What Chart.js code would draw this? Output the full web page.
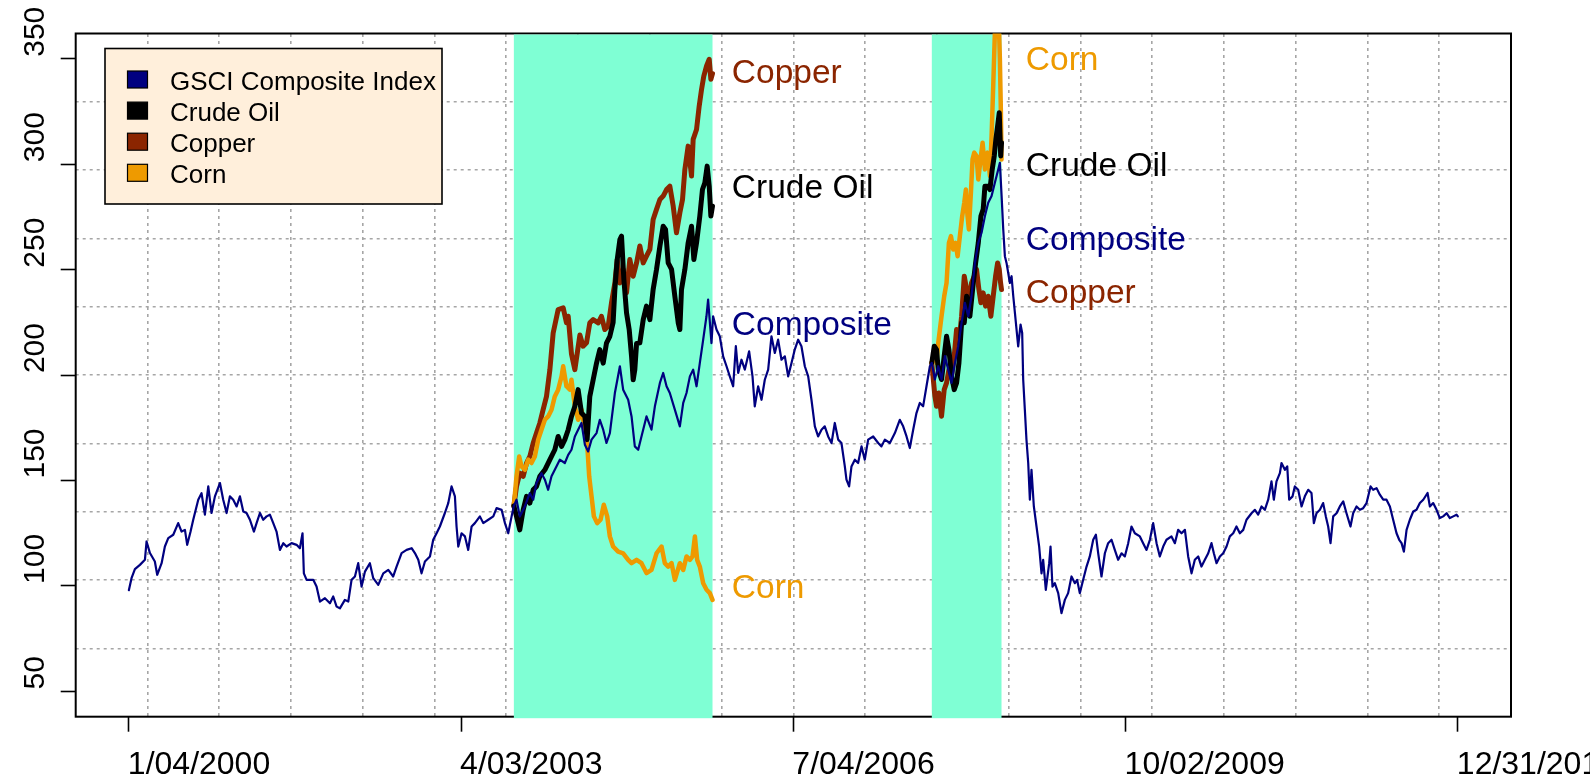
<!DOCTYPE html>
<html><head><meta charset="utf-8">
<script src="https://cdn.jsdelivr.net/npm/chart.js@4.4.1/dist/chart.umd.min.js"></script>
<style>html,body{margin:0;padding:0;background:#fff;overflow:hidden}</style>
</head><body>
<canvas id="c" width="1590" height="779"></canvas>
<script>
// ---------------- DATA ----------------
const xTickLabels = ['1/04/2000','4/03/2003','7/04/2006','10/02/2009','12/31/2012'];
const xTickYears = [2000.011, 2003.2575, 2006.504, 2009.7505, 2012.997];
const yTickValues = [50,100,150,200,250,300,350];
const yLimits = [50, 350];
const shadeRegions = [[2003.773, 2005.714], [2007.857, 2008.538]];
const legendLabels = ['GSCI Composite Index','Crude Oil','Copper','Corn'];

const composite = [
[2000.011,98.0],[2000.037,103.7],[2000.070,108.0],[2000.119,110.0],[2000.168,112.4],[2000.184,121.1],[2000.217,115.6],[2000.265,111.6],[2000.288,105.3],[2000.331,110.8],[2000.363,118.7],[2000.396,122.7],[2000.445,124.3],[2000.493,129.8],[2000.526,125.8],[2000.559,126.6],[2000.581,119.5],[2000.614,125.8],[2000.640,131.4],[2000.689,140.9],[2000.721,144.0],[2000.754,133.8],[2000.787,147.2],[2000.819,134.6],[2000.852,142.5],[2000.901,148.8],[2000.933,140.9],[2000.966,134.6],[2000.998,142.5],[2001.031,140.9],[2001.064,137.7],[2001.096,142.5],[2001.129,135.3],[2001.161,134.6],[2001.194,131.4],[2001.233,125.8],[2001.259,129.8],[2001.292,134.6],[2001.324,131.4],[2001.357,133.0],[2001.389,133.8],[2001.422,129.8],[2001.454,125.8],[2001.487,117.1],[2001.520,120.3],[2001.552,118.7],[2001.601,120.3],[2001.650,119.5],[2001.682,117.9],[2001.708,125.0],[2001.721,106.0],[2001.748,102.9],[2001.813,102.9],[2001.845,99.7],[2001.878,92.6],[2001.927,94.2],[2001.976,91.8],[2002.008,95.0],[2002.041,90.2],[2002.073,89.4],[2002.122,93.4],[2002.155,92.6],[2002.187,102.9],[2002.220,104.5],[2002.252,110.8],[2002.285,99.7],[2002.318,106.8],[2002.366,110.8],[2002.399,103.7],[2002.448,100.5],[2002.497,106.0],[2002.546,107.6],[2002.594,104.5],[2002.627,109.2],[2002.676,115.6],[2002.725,117.1],[2002.774,117.9],[2002.806,115.6],[2002.839,112.4],[2002.871,106.0],[2002.904,111.6],[2002.953,114.0],[2002.985,121.9],[2003.018,125.0],[2003.050,128.2],[2003.099,134.6],[2003.132,139.3],[2003.164,147.2],[2003.197,142.5],[2003.213,128.2],[2003.230,118.7],[2003.262,125.0],[2003.295,123.5],[2003.327,117.1],[2003.360,128.2],[2003.392,129.8],[2003.441,133.0],[2003.474,129.8],[2003.523,131.4],[2003.572,133.0],[2003.604,136.9],[2003.653,136.1],[2003.686,129.8],[2003.718,125.0],[2003.751,133.0],
[2003.773,138.0],[2003.799,140.9],[2003.831,133.0],[2003.880,137.7],[2003.929,144.0],[2003.962,140.9],[2003.994,148.8],[2004.043,153.5],[2004.076,150.4],[2004.108,145.6],[2004.141,152.0],[2004.173,155.1],[2004.222,159.9],[2004.271,158.3],[2004.304,162.2],[2004.336,164.6],[2004.369,170.9],[2004.401,174.1],[2004.434,177.3],[2004.467,167.0],[2004.499,163.8],[2004.532,169.4],[2004.581,172.5],[2004.613,178.8],[2004.646,174.1],[2004.678,167.8],[2004.711,172.5],[2004.760,191.5],[2004.809,204.2],[2004.841,193.1],[2004.890,188.3],[2004.923,180.4],[2004.955,166.2],[2004.988,164.6],[2005.020,170.9],[2005.069,180.4],[2005.118,174.1],[2005.151,185.2],[2005.200,196.3],[2005.232,201.0],[2005.265,194.7],[2005.297,191.5],[2005.346,183.6],[2005.395,175.7],[2005.428,186.8],[2005.460,191.5],[2005.493,199.4],[2005.525,202.6],[2005.558,194.7],[2005.590,205.7],[2005.623,216.8],[2005.655,227.9],[2005.671,235.8],[2005.704,215.2],[2005.720,227.9],[2005.753,221.6],[2005.785,218.4],[2005.818,208.9],[2005.851,204.2],[2005.883,199.4],[2005.916,194.7],[2005.942,213.7],[2005.965,201.0],[2005.997,207.3],[2006.030,202.6],[2006.072,211.3],[2006.105,199.4],[2006.127,185.2],[2006.160,194.7],[2006.193,188.3],[2006.225,197.8],[2006.258,202.6],[2006.290,218.4],[2006.323,210.5],[2006.355,216.8],[2006.388,207.3],[2006.421,208.9],[2006.453,199.4],[2006.486,205.7],[2006.518,212.1],[2006.551,216.8],[2006.583,213.7],[2006.616,204.2],[2006.649,199.4],[2006.681,188.3],[2006.714,175.7],[2006.746,170.9],[2006.779,174.1],[2006.811,175.7],[2006.844,170.9],[2006.877,167.8],[2006.909,177.3],[2006.942,169.4],[2006.974,167.8],[2007.007,156.7],[2007.023,150.4],[2007.049,147.2],[2007.072,156.7],[2007.105,159.9],[2007.137,158.3],[2007.170,166.2],[2007.202,159.9],[2007.235,169.4],[2007.284,170.9],[2007.333,167.8],[2007.365,166.2],[2007.398,169.4],[2007.447,167.8],[2007.496,172.5],[2007.544,178.8],[2007.577,175.7],[2007.610,170.9],[2007.642,165.4],[2007.675,174.1],[2007.707,182.0],[2007.740,186.8],[2007.772,185.2],[2007.805,194.7],[2007.838,204.2],
[2007.857,205.8],[2007.887,197.9],[2007.920,204.2],[2007.952,197.9],[2007.985,209.0],[2008.017,202.6],[2008.050,196.3],[2008.083,205.8],[2008.115,213.7],[2008.148,224.8],[2008.180,234.3],[2008.213,227.9],[2008.245,237.4],[2008.278,253.2],[2008.311,262.7],[2008.343,267.5],[2008.376,275.4],[2008.408,281.7],[2008.441,284.9],[2008.473,291.2],[2008.506,297.5],[2008.522,300.7],[2008.539,284.9],[2008.555,269.1],[2008.571,256.4],[2008.587,253.2],[2008.620,243.7],[2008.636,246.9],[2008.653,237.4],[2008.669,229.5],[2008.701,213.6],[2008.724,224.0],[2008.740,220.0],[2008.750,197.8],[2008.766,183.6],[2008.782,169.3],[2008.799,158.3],[2008.815,140.9],[2008.831,155.1],[2008.854,137.7],[2008.880,128.2],[2008.906,118.7],[2008.929,106.0],[2008.945,112.4],[2008.971,98.1],[2009.004,110.8],[2009.017,118.7],[2009.036,99.7],[2009.059,101.3],[2009.092,96.6],[2009.124,87.1],[2009.157,93.4],[2009.189,96.6],[2009.222,104.5],[2009.255,101.3],[2009.277,102.9],[2009.303,96.6],[2009.336,102.9],[2009.369,109.2],[2009.401,114.0],[2009.434,121.9],[2009.460,124.3],[2009.483,115.5],[2009.515,104.5],[2009.548,115.5],[2009.580,120.3],[2009.613,121.9],[2009.645,117.1],[2009.678,112.4],[2009.711,115.5],[2009.743,114.0],[2009.776,120.3],[2009.808,128.2],[2009.841,125.0],[2009.890,123.5],[2009.922,120.3],[2009.955,117.1],[2009.988,121.9],[2010.020,129.8],[2010.053,120.3],[2010.085,114.0],[2010.118,118.7],[2010.150,121.9],[2010.199,123.5],[2010.232,120.3],[2010.264,126.6],[2010.297,125.0],[2010.330,126.6],[2010.362,114.0],[2010.395,106.0],[2010.427,112.4],[2010.460,114.0],[2010.492,109.2],[2010.525,112.4],[2010.558,115.5],[2010.590,120.3],[2010.613,115.5],[2010.639,110.8],[2010.672,114.0],[2010.704,115.5],[2010.737,118.7],[2010.769,123.5],[2010.802,125.0],[2010.834,128.2],
[2010.867,125.0],[2010.900,126.6],[2010.932,131.4],[2010.981,134.5],[2011.014,136.1],[2011.046,133.8],[2011.079,137.7],[2011.111,136.1],[2011.144,140.9],[2011.176,149.6],[2011.199,140.9],[2011.225,149.6],[2011.258,153.5],[2011.274,158.3],[2011.307,155.1],[2011.330,156.7],[2011.349,140.9],[2011.382,142.5],[2011.404,147.2],[2011.437,145.6],[2011.470,137.7],[2011.502,142.5],[2011.535,145.6],[2011.567,144.1],[2011.590,129.8],[2011.616,134.5],[2011.649,136.1],[2011.681,139.3],[2011.707,133.0],[2011.730,128.2],[2011.753,120.3],[2011.779,133.0],[2011.812,134.5],[2011.844,137.7],[2011.877,140.1],[2011.909,134.5],[2011.948,128.2],[2011.974,134.5],[2012.007,137.7],[2012.040,136.1],[2012.072,136.9],[2012.105,139.3],[2012.144,147.2],[2012.170,145.6],[2012.203,146.4],[2012.235,143.3],[2012.268,140.9],[2012.300,140.9],[2012.333,137.7],[2012.365,131.4],[2012.398,125.0],[2012.424,121.9],[2012.447,120.3],[2012.470,116.3],[2012.496,126.6],[2012.528,131.4],[2012.561,135.3],[2012.593,136.1],[2012.626,139.3],[2012.659,140.9],[2012.701,144.1],[2012.724,137.7],[2012.756,139.3],[2012.789,136.1],[2012.821,132.2],[2012.854,133.0],[2012.887,134.5],[2012.919,132.2],[2012.952,133.0],[2012.984,133.8],[2012.997,133.0]
];

const crudeOil1 = [
[2003.773,138.0],[2003.799,133.0],[2003.831,126.6],[2003.864,136.1],[2003.897,142.5],[2003.929,139.3],[2003.962,145.6],[2003.994,147.2],[2004.027,152.0],[2004.076,155.1],[2004.125,159.9],[2004.173,164.6],[2004.206,170.9],[2004.239,166.2],[2004.271,169.4],[2004.304,174.1],[2004.336,180.4],[2004.369,185.2],[2004.401,193.1],[2004.434,182.0],[2004.467,180.4],[2004.489,169.4],[2004.515,189.9],[2004.548,197.8],[2004.581,205.7],[2004.613,212.1],[2004.646,205.7],[2004.678,215.2],[2004.711,218.4],[2004.743,225.0],[2004.760,240.6],[2004.783,254.8],[2004.809,264.3],[2004.825,265.9],[2004.848,245.3],[2004.874,229.5],[2004.900,221.6],[2004.923,208.9],[2004.939,197.8],[2004.955,202.6],[2004.972,215.0],[2005.004,215.3],[2005.037,226.3],[2005.069,232.7],[2005.102,226.3],[2005.134,240.6],[2005.167,250.1],[2005.200,261.2],[2005.232,270.6],[2005.255,269.1],[2005.281,253.2],[2005.314,250.1],[2005.346,237.4],[2005.379,224.8],[2005.395,221.6],[2005.411,240.6],[2005.444,250.1],[2005.476,262.7],[2005.509,270.6],[2005.532,254.8],[2005.558,262.7],[2005.590,275.4],[2005.616,288.0],[2005.639,291.2],[2005.662,299.1],[2005.682,289.6],[2005.698,275.4],[2005.714,280.1]
];
const copper1 = [
[2003.773,138.0],[2003.799,147.2],[2003.831,153.5],[2003.864,152.0],[2003.897,158.3],[2003.929,161.4],[2003.962,167.8],[2003.994,172.5],[2004.027,177.3],[2004.059,183.6],[2004.092,189.9],[2004.125,202.6],[2004.157,220.0],[2004.206,231.1],[2004.255,231.9],[2004.287,224.8],[2004.304,227.9],[2004.336,210.0],[2004.369,202.6],[2004.418,219.0],[2004.450,213.7],[2004.483,215.3],[2004.515,224.8],[2004.548,226.3],[2004.597,224.8],[2004.629,227.9],[2004.662,221.6],[2004.695,223.2],[2004.727,234.3],[2004.760,243.7],[2004.783,254.8],[2004.809,243.7],[2004.841,250.1],[2004.874,239.0],[2004.906,254.8],[2004.939,246.9],[2004.972,253.2],[2005.004,261.2],[2005.037,253.2],[2005.069,256.4],[2005.102,259.6],[2005.134,273.8],[2005.167,278.6],[2005.200,283.3],[2005.232,284.9],[2005.265,288.0],[2005.297,289.6],[2005.330,280.1],[2005.362,267.5],[2005.395,277.0],[2005.421,283.3],[2005.444,297.5],[2005.476,308.6],[2005.509,294.4],[2005.525,311.8],[2005.558,316.5],[2005.584,327.6],[2005.607,335.5],[2005.629,341.8],[2005.656,346.6],[2005.682,349.8],[2005.698,340.3],[2005.714,343.0]
];
const corn1 = [
[2003.773,138.0],[2003.799,152.0],[2003.825,161.4],[2003.848,156.7],[2003.880,155.1],[2003.913,159.9],[2003.945,158.3],[2003.978,161.4],[2004.011,169.4],[2004.043,174.1],[2004.076,178.8],[2004.108,180.4],[2004.141,183.6],[2004.173,189.9],[2004.206,193.1],[2004.239,199.4],[2004.255,204.2],[2004.287,194.7],[2004.320,193.1],[2004.336,197.8],[2004.369,185.2],[2004.401,178.8],[2004.434,183.6],[2004.467,174.1],[2004.489,167.8],[2004.509,152.0],[2004.532,142.5],[2004.555,133.0],[2004.587,129.8],[2004.620,131.4],[2004.652,138.5],[2004.685,133.0],[2004.711,123.5],[2004.743,118.7],[2004.792,116.3],[2004.841,115.5],[2004.890,112.4],[2004.923,110.8],[2004.972,112.4],[2005.020,110.8],[2005.069,106.1],[2005.118,107.6],[2005.167,115.5],[2005.216,118.7],[2005.248,110.8],[2005.281,109.2],[2005.314,110.8],[2005.346,102.9],[2005.395,110.8],[2005.428,107.6],[2005.460,114.0],[2005.493,112.4],[2005.519,114.0],[2005.542,123.5],[2005.564,112.4],[2005.590,109.2],[2005.623,101.3],[2005.656,98.2],[2005.688,96.6],[2005.714,93.4]
];
const crudeOil2 = [
[2007.857,205.8],[2007.881,213.7],[2007.903,212.1],[2007.920,202.6],[2007.952,197.9],[2007.978,209.0],[2008.001,218.4],[2008.024,212.1],[2008.050,199.4],[2008.076,193.1],[2008.099,196.3],[2008.122,205.8],[2008.148,224.8],[2008.174,224.8],[2008.197,237.4],[2008.229,227.9],[2008.262,243.7],[2008.285,253.2],[2008.311,262.7],[2008.337,275.4],[2008.359,278.6],[2008.376,289.6],[2008.402,289.6],[2008.425,288.0],[2008.447,297.5],[2008.467,303.9],[2008.483,311.8],[2008.500,318.1],[2008.516,324.4],[2008.530,303.9],[2008.538,310.2]
];
const copper2 = [
[2007.857,205.8],[2007.887,190.0],[2007.903,185.2],[2007.926,191.5],[2007.952,180.5],[2007.978,193.1],[2008.001,196.3],[2008.024,202.6],[2008.050,199.4],[2008.076,209.0],[2008.099,221.6],[2008.122,215.3],[2008.148,227.9],[2008.174,246.9],[2008.197,240.6],[2008.219,234.3],[2008.245,243.7],[2008.272,246.9],[2008.294,250.1],[2008.317,240.6],[2008.337,234.3],[2008.359,239.0],[2008.382,232.7],[2008.408,237.4],[2008.434,227.9],[2008.457,237.4],[2008.480,246.9],[2008.500,253.2],[2008.516,250.1],[2008.529,243.7],[2008.538,240.6]
];
const corn2 = [
[2007.857,205.8],[2007.887,212.1],[2007.903,205.8],[2007.920,215.3],[2007.936,221.6],[2007.952,227.9],[2007.978,237.4],[2008.001,243.7],[2008.024,262.7],[2008.044,265.9],[2008.066,259.6],[2008.089,262.7],[2008.109,256.4],[2008.131,265.9],[2008.154,275.4],[2008.174,281.7],[2008.190,288.0],[2008.206,275.4],[2008.219,269.1],[2008.239,286.5],[2008.255,302.3],[2008.272,305.5],[2008.294,303.9],[2008.311,292.8],[2008.337,303.9],[2008.353,310.2],[2008.376,297.5],[2008.402,305.5],[2008.425,294.4],[2008.441,313.4],[2008.457,337.1],[2008.473,362.0],[2008.490,368.0],[2008.513,365.0],[2008.522,350.0],[2008.532,324.4],[2008.538,302.3]
];

// in-plot labels: [text, year, value, colour key]
const endLabels = [
  ['Copper', 2005.903, 344.0, 'copper'], ['Crude Oil', 2005.903, 289.6, 'oil'],
  ['Composite', 2005.903, 224.7, 'composite'], ['Corn', 2005.903, 100.0, 'corn'],
  ['Corn', 2008.776, 350.2, 'corn'], ['Crude Oil', 2008.776, 299.9, 'oil'],
  ['Composite', 2008.776, 265.0, 'composite'], ['Copper', 2008.776, 239.8, 'copper']
];

// ---------------- STYLE ----------------
const COL = {composite:'#000080', oil:'#000000', copper:'#8B2500', corn:'#EE9A00'};
const SHADE = '#7FFFD4';
const FONT = '"Liberation Sans", Arial, Helvetica, sans-serif';

const span = xTickYears[4] - xTickYears[0];
const xMin = xTickYears[0] - 0.04*span, xMax = xTickYears[4] + 0.04*span;
const yr = yLimits[1]-yLimits[0];
const yMin = yLimits[0] - 0.04*yr, yMax = yLimits[1] + 0.04*yr;

const pts = a => a.map(p => ({x:p[0], y:p[1]}));
// line break between the two separate windows
const joined = (a,b) => pts(a).concat([{x:(a[a.length-1][0]+b[0][0])/2, y:null}], pts(b));

const xGrid = [], yGrid = [];
for (let k=1;k<20;k++) xGrid.push(xMin + (xMax-xMin)*k/20);
for (let k=1;k<10;k++) yGrid.push(yMin + (yMax-yMin)*k/10);

const tickAxis = (vals, fitFn) => ({
  type:'linear', afterBuildTicks: s => { s.ticks = vals.map(v => ({value:v})); },
  afterFit: fitFn, ticks:{display:false},
  grid:{display:true, drawOnChartArea:false, drawTicks:true, tickLength:15, tickWidth:1.6, tickColor:'#000', color:'#000'},
  border:{display:false}
});
const gridAxis = (vals, fitFn) => ({
  type:'linear', afterBuildTicks: s => { s.ticks = vals.map(v => ({value:v})); },
  afterFit: fitFn, ticks:{display:false},
  grid:{display:true, drawOnChartArea:true, drawTicks:false, color:'#a6a6a6', lineWidth:1.6},
  border:{display:false, dash:[3,4]}
});

const overlay = {
  id:'overlay',
  beforeDatasetsDraw(chart){
    const {ctx, chartArea:a, scales:{x}} = chart;
    ctx.save();
    ctx.strokeStyle = '#000'; ctx.lineWidth = 2;
    ctx.strokeRect(a.left, a.top, a.right-a.left, a.bottom-a.top);
    ctx.fillStyle = SHADE;
    for (const [s,e] of shadeRegions){
      const x1 = x.getPixelForValue(s), x2 = x.getPixelForValue(e);
      ctx.fillRect(x1, a.top+1, x2-x1, a.bottom-a.top+0.5);
    }
    ctx.restore();
  },
  afterDatasetsDraw(chart){
    const {ctx, chartArea:a, scales:{x,y}} = chart;
    ctx.save();
    // in-plot series labels
    ctx.font = '33.5px ' + FONT; ctx.textAlign = 'left'; ctx.textBaseline = 'alphabetic';
    for (const [t, xv, yv, c] of endLabels){
      ctx.fillStyle = COL[c];
      ctx.fillText(t, x.getPixelForValue(xv), y.getPixelForValue(yv) + 12);
    }
    // x tick labels
    ctx.fillStyle = '#000'; ctx.font = '32px ' + FONT;
    xTickYears.forEach((v,i) => ctx.fillText(xTickLabels[i], x.getPixelForValue(v) - 1, a.bottom + 57));
    // y tick labels (rotated)
    ctx.font = '30px ' + FONT;
    yTickValues.forEach(v => {
      ctx.save();
      ctx.translate(a.left - 32, y.getPixelForValue(v) - 2);
      ctx.rotate(-Math.PI/2);
      ctx.fillText(String(v), 0, 0);
      ctx.restore();
    });
    // legend
    const L = {x:105, y:48.5, w:337, h:155.5};
    ctx.fillStyle = '#FFEFDB'; ctx.fillRect(L.x, L.y, L.w, L.h);
    ctx.strokeStyle = '#000'; ctx.lineWidth = 1.6; ctx.strokeRect(L.x, L.y, L.w, L.h);
    const cols = [COL.composite, COL.oil, COL.copper, COL.corn];
    ctx.font = '26px ' + FONT;
    legendLabels.forEach((t,i) => {
      const cy = 79.5 + i*31.1;
      ctx.fillStyle = cols[i]; ctx.fillRect(127.5, cy-8.5, 20, 17);
      ctx.lineWidth = 1.2; ctx.strokeRect(127.5, cy-8.5, 20, 17);
      ctx.fillStyle = '#000'; ctx.fillText(t, 170, cy + 10);
    });
    ctx.restore();
  }
};

new Chart(document.getElementById('c'), {
  type:'line',
  data:{ datasets:[
    {label:legendLabels[0], data:pts(composite), borderColor:COL.composite, borderWidth:2.2, xAxisID:'x', yAxisID:'y', clip:0},
    {label:legendLabels[1], data:joined(crudeOil1, crudeOil2), borderColor:COL.oil, borderWidth:5, xAxisID:'x', yAxisID:'y', clip:0},
    {label:legendLabels[3], data:joined(corn1, corn2), borderColor:COL.corn, borderWidth:4.5, xAxisID:'x', yAxisID:'y', clip:0},
    {label:legendLabels[2], data:joined(copper1, copper2), borderColor:COL.copper, borderWidth:5, xAxisID:'x', yAxisID:'y', clip:0}
  ]},
  options:{
    responsive:false, animation:false, devicePixelRatio:1, events:[],
    parsing:true, spanGaps:false,
    elements:{point:{radius:0}, line:{tension:0, borderJoinStyle:'round', borderCapStyle:'round', fill:false}},
    layout:{padding:{left:0, top:33.5, right:79, bottom:0}},
    plugins:{legend:{display:false}, tooltip:{enabled:false}, title:{display:false}},
    scales:{
      x: Object.assign(tickAxis(xTickYears, s => { s.height = 62.3; }), {position:'bottom', min:xMin, max:xMax}),
      y: Object.assign(tickAxis(yTickValues, s => { s.width = 75.7; }), {position:'left', min:yMin, max:yMax}),
      xg: Object.assign(gridAxis(xGrid, s => { s.height = 0; }), {position:'top', min:xMin, max:xMax}),
      yg: Object.assign(gridAxis(yGrid, s => { s.width = 0; }), {position:'right', min:yMin, max:yMax})
    }
  },
  plugins:[overlay]
});
</script>
</body></html>
